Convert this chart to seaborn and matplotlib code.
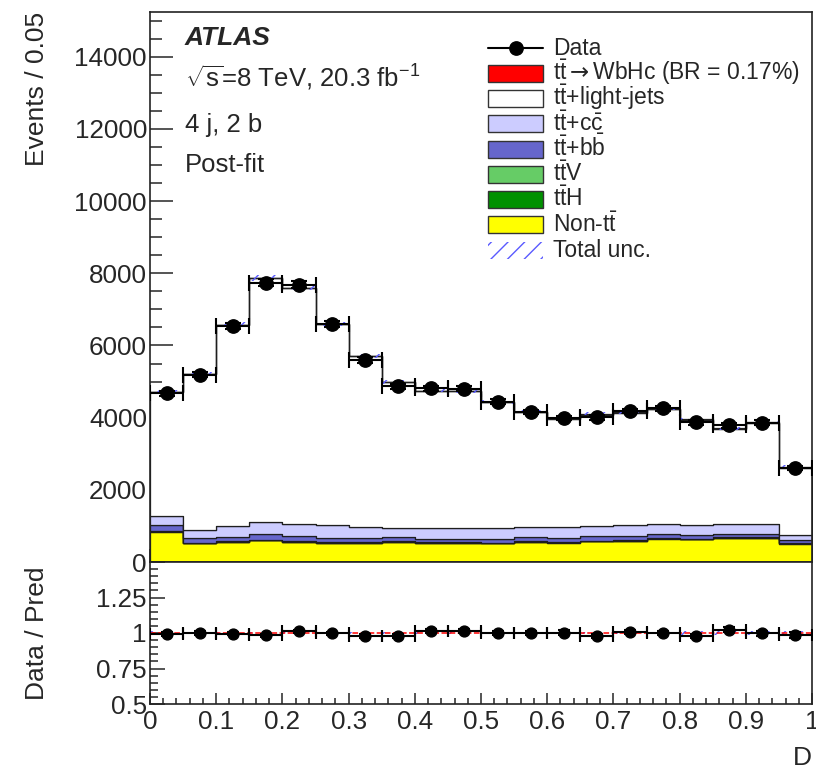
import numpy as np
import pandas as pd
import matplotlib
matplotlib.use("Agg")
import matplotlib.pyplot as plt
from matplotlib.patches import Rectangle
from matplotlib.ticker import MultipleLocator, FuncFormatter
import seaborn as sns

# ---------------------------------------------------------------- data
bin_width = 0.05
n_bins = 20

data_events = [4675, 5194, 6547, 7742, 7686, 6583, 5592, 4870, 4814, 4797,
               4444, 4158, 3991, 4008, 4186, 4258, 3869, 3786, 3861, 2603]

wbhc = [5, 6, 8, 10, 11, 10, 9, 9, 10, 11, 12, 13, 14, 16, 18, 20, 22, 24, 27, 22]
tt_light = [3425, 4301, 5581, 6738, 6519, 5558, 4731, 4022, 3803, 3794,
            3479, 3181, 2997, 3095, 3112, 3165, 2902, 2631, 2796, 1859]
tt_cc = [259, 239, 297, 351, 352, 352, 315, 260, 287, 287,
         314, 287, 305, 278, 288, 278, 269, 259, 259, 157]
tt_bb = [156, 124, 122, 149, 141, 131, 112, 122, 103, 103,
         94, 113, 112, 121, 128, 119, 109, 99, 99, 78]
ttv = [14, 10, 11, 12, 11, 11, 11, 11, 11, 11, 11, 11, 12, 12, 13, 13, 13, 14, 14, 10]
tth = [7, 5, 6, 6, 6, 6, 6, 6, 6, 6, 6, 6, 6, 6, 7, 7, 7, 7, 7, 5]
non_tt = [842, 519, 555, 602, 555, 528, 528, 555, 528, 528,
          519, 555, 537, 574, 583, 648, 630, 667, 667, 509]

# relative total uncertainty of the post-fit prediction
unc_rel = [0.012, 0.010, 0.010, 0.009, 0.009, 0.009, 0.010, 0.010, 0.010, 0.010,
           0.010, 0.010, 0.010, 0.010, 0.010, 0.010, 0.011, 0.011, 0.011, 0.013]

proc_labels = [
    r"$\mathrm{t\bar{t}}\mathsf{\rightarrow}$WbHc (BR = 0.17%)",
    r"$\mathrm{t\bar{t}}$+light-jets",
    r"$\mathrm{t\bar{t}{+}c\bar{c}}$",
    r"$\mathrm{t\bar{t}{+}b\bar{b}}$",
    r"$\mathrm{t\bar{t}V}$",
    r"$\mathrm{t\bar{t}H}$",
    r"Non-$\mathrm{t\bar{t}}$",
]
proc_values = [wbhc, tt_light, tt_cc, tt_bb, ttv, tth, non_tt]
proc_colors = ["#ff0000", "#ffffff", "#ccccff", "#6666cc", "#66cc66", "#009100", "#ffff00"]

# ---------------------------------------------------------------- style
sns.set_style("ticks")
plt.rcParams["font.family"] = ["Liberation Sans", "DejaVu Sans"]
plt.rcParams["mathtext.fontset"] = "custom"
plt.rcParams["mathtext.rm"] = "Liberation Sans"
plt.rcParams["mathtext.it"] = "Liberation Sans:italic"
plt.rcParams["mathtext.bf"] = "Liberation Sans:bold"
plt.rcParams["mathtext.sf"] = "DejaVu Sans"
plt.rcParams["hatch.linewidth"] = 1.0

edges = np.arange(n_bins + 1) * bin_width
centers = edges[:-1] + bin_width / 2

rows = []
for lab, vals in zip(proc_labels, proc_values):
    for c, v in zip(centers, vals):
        rows.append({"D": c, "Events": v, "Process": lab})
df = pd.DataFrame(rows)

data = np.array(data_events, dtype=float)
total = np.sum(np.array(proc_values, dtype=float), axis=0)
unc = np.array(unc_rel)

W, H = 816, 769
fig = plt.figure(figsize=(W / 100, H / 100), dpi=100)

def px_x(px):
    return px / W

def px_y(py):
    return 1 - py / H

ax_left, ax_right = 150, 812
main_top, split, ratio_bottom = 12, 562, 704
ax = fig.add_axes([px_x(ax_left), px_y(split), (ax_right - ax_left) / W, (split - main_top) / H])
axr = fig.add_axes([px_x(ax_left), px_y(ratio_bottom), (ax_right - ax_left) / W, (ratio_bottom - split) / H])

# ---------------------------------------------------------------- main panel
sns.histplot(data=df, x="D", weights="Events", hue="Process", hue_order=proc_labels,
             palette=dict(zip(proc_labels, proc_colors)), multiple="stack",
             element="step", bins=[float(e) for e in edges], alpha=1, edgecolor="#1e1e1e",
             linewidth=0.9, legend=False, ax=ax)

ax.fill_between(edges, np.append(total * (1 - unc), total[-1] * (1 - unc[-1])),
                np.append(total * (1 + unc), total[-1] * (1 + unc[-1])),
                step="post", facecolor="none", edgecolor="#5a5aff", hatch="//",
                linewidth=0, zorder=4)

ax.errorbar(centers, data, xerr=bin_width / 2, yerr=np.sqrt(data), fmt="o",
            color="black", ms=9.6, elinewidth=1.5, capsize=5.5, capthick=1.5, zorder=6)

ax.set_xlim(0, 1)
ax.set_ylim(0, 15240)
ax.set_xlabel("")
ax.set_ylabel("")
ax.yaxis.set_major_locator(MultipleLocator(2000))
ax.yaxis.set_minor_locator(MultipleLocator(500))
ax.xaxis.set_major_locator(MultipleLocator(0.1))
ax.xaxis.set_minor_locator(MultipleLocator(0.02))
ax.tick_params(axis="x", which="major", direction="in", length=9.4, width=1.1, labelbottom=False)
ax.tick_params(axis="x", which="minor", direction="in", length=4.7, width=1.1)
ax.tick_params(axis="y", which="major", direction="in", length=16.5, width=1.1, labelsize=18.7, pad=2.2)
ax.tick_params(axis="y", which="minor", direction="in", length=8.5, width=1.1)
ax.yaxis.set_major_formatter(FuncFormatter(lambda v, p: "%d" % v))

# annotations
def ax_xy(px, py):
    return (px - ax_left) / (ax_right - ax_left), (split - py) / (split - main_top)

tx, ty = ax_xy(185, 45)
ax.text(tx, ty, "ATLAS", transform=ax.transAxes, fontsize=19, fontweight="bold",
        fontstyle="italic", va="baseline")
ax.text(tx, ax_xy(185, 87)[1], r"$\sqrt{\mathrm{s}}$=8 TeV, 20.3 fb$^{-1}$",
        transform=ax.transAxes, fontsize=18.5, va="baseline")
ax.text(tx, ax_xy(185, 132)[1], "4 j, 2 b", transform=ax.transAxes, fontsize=18.5, va="baseline")
ax.text(tx, ax_xy(185, 172)[1], "Post-fit", transform=ax.transAxes, fontsize=18.5, va="baseline")

# legend, drawn entry by entry
leg_x0, leg_x1, leg_text_x = 488, 543, 553
row0, pitch, box_h = 48, 25.25, 17
entries = [("Data", "data", None)]
entries += [(lab, "box", col) for lab, col in zip(proc_labels, proc_colors)]
entries += [("Total unc.", "hatch", None)]
for i, (lab, kind, col) in enumerate(entries):
    yc = row0 + i * pitch
    x0, yb = ax_xy(leg_x0, yc + box_h / 2)
    x1, yt = ax_xy(leg_x1, yc - box_h / 2)
    if kind == "data":
        _, ym = ax_xy(0, yc)
        ax.plot([x0, x1], [ym, ym], color="black", lw=1.5, transform=ax.transAxes, clip_on=False)
        ax.plot([(x0 + x1) / 2], [ym], "o", color="black", ms=9.6, transform=ax.transAxes, clip_on=False)
    elif kind == "box":
        ax.add_patch(Rectangle((x0, yb), x1 - x0, yt - yb, transform=ax.transAxes,
                               facecolor=col, edgecolor="#333333", lw=1.0, zorder=7))
    else:
        ax.add_patch(Rectangle((x0, yb), x1 - x0, yt - yb, transform=ax.transAxes,
                               facecolor="none", edgecolor="#5a5aff", hatch="//", lw=0, zorder=7))
    ax.text(ax_xy(leg_text_x, 0)[0], ax_xy(0, yc + 7)[1], lab, transform=ax.transAxes,
            fontsize=16.5, va="baseline", ha="left", zorder=8)

# ---------------------------------------------------------------- ratio panel
ratio = data / total
ratio_err = np.sqrt(data) / total

axr.fill_between(edges, np.append(1 - unc, 1 - unc[-1]), np.append(1 + unc, 1 + unc[-1]),
                 step="post", facecolor="none", edgecolor="#5a5aff", hatch="//", linewidth=0)
sns.lineplot(x=[0, 1], y=[1, 1], color="red", linestyle="--", lw=1.1, ax=axr)
axr.errorbar(centers, ratio, xerr=bin_width / 2, yerr=ratio_err, fmt="o", color="black",
             ms=7.8, elinewidth=1.5, capsize=4.5, capthick=1.5, zorder=6)

axr.set_xlim(0, 1)
axr.set_ylim(0.5, 1.5)
axr.yaxis.set_major_locator(MultipleLocator(0.25))
axr.yaxis.set_minor_locator(MultipleLocator(0.05))
axr.xaxis.set_major_locator(MultipleLocator(0.1))
axr.xaxis.set_minor_locator(MultipleLocator(0.02))
axr.tick_params(axis="x", which="major", direction="in", length=8, width=1.1, labelsize=18.7, pad=4.5)
axr.tick_params(axis="x", which="minor", direction="in", length=4, width=1.1)
axr.tick_params(axis="y", which="major", direction="in", length=10.8, width=1.1, labelsize=18.7, pad=2.2)
axr.tick_params(axis="y", which="minor", direction="in", length=5.4, width=1.1)
axr.xaxis.set_major_formatter(FuncFormatter(lambda v, p: "%g" % round(v, 2)))
axr.yaxis.set_major_formatter(FuncFormatter(lambda v, p: "" if v > 1.4 else "%g" % v))
axr.set_xlabel("")
axr.set_ylabel("")

for a in (ax, axr):
    for s in a.spines.values():
        s.set_linewidth(1.2)
        s.set_color("#222222")

# axis titles
fig.text(px_x(37), px_y(main_top), "Events / 0.05", rotation=90, ha="center", va="top", fontsize=19)
fig.text(px_x(37), px_y((split + ratio_bottom) / 2), "Data / Pred", rotation=90,
         ha="center", va="center", fontsize=19)
fig.text(px_x(ax_right), px_y(746), "D", ha="right", va="top", fontsize=19)

fig.savefig("out.png", dpi=100)
